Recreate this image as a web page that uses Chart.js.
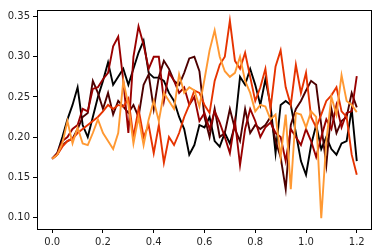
<!DOCTYPE html>
<html>
<head>
<meta charset="utf-8">
<script src="https://cdn.jsdelivr.net/npm/chart.js@4"></script>
<style>
    html, body { margin: 0; padding: 0; background: #ffffff; }
    #wrap { width: 382px; height: 252px; }
</style>
</head>
<body>
<div id="wrap"><canvas id="walkChart" width="382" height="252"></canvas></div>
<script>
// x positions shared by all series
const xValues = [0.00, 0.02, 0.04, 0.06, 0.08, 0.10, 0.12, 0.14, 0.16, 0.18,
    0.20, 0.22, 0.24, 0.26, 0.28, 0.30, 0.32, 0.34, 0.36, 0.38,
    0.40, 0.42, 0.44, 0.46, 0.48, 0.50, 0.52, 0.54, 0.56, 0.58,
    0.60, 0.62, 0.64, 0.66, 0.68, 0.70, 0.72, 0.74, 0.76, 0.78,
    0.80, 0.82, 0.84, 0.86, 0.88, 0.90, 0.92, 0.94, 0.96, 0.98,
    1.00, 1.02, 1.04, 1.06, 1.08, 1.10, 1.12, 1.14, 1.16, 1.18, 1.20];

const blackSeries = [0.173, 0.180, 0.200, 0.222, 0.240, 0.262, 0.215, 0.200, 0.225, 0.250,
    0.270, 0.293, 0.265, 0.275, 0.285, 0.265, 0.285, 0.305, 0.320, 0.280,
    0.274, 0.274, 0.270, 0.255, 0.245, 0.225, 0.210, 0.178, 0.190, 0.215,
    0.212, 0.225, 0.195, 0.188, 0.205, 0.192, 0.215, 0.275, 0.265, 0.285,
    0.265, 0.240, 0.272, 0.240, 0.180, 0.240, 0.245, 0.240, 0.205, 0.170,
    0.153, 0.190, 0.215, 0.185, 0.200, 0.185, 0.178, 0.192, 0.195, 0.235, 0.170];

const maroonSeries = [0.173, 0.178, 0.190, 0.195, 0.198, 0.210, 0.225, 0.230, 0.270, 0.255,
    0.235, 0.255, 0.228, 0.245, 0.238, 0.230, 0.240, 0.225, 0.265, 0.278,
    0.235, 0.275, 0.295, 0.285, 0.270, 0.265, 0.280, 0.298, 0.300, 0.282,
    0.225, 0.200, 0.235, 0.200, 0.205, 0.235, 0.210, 0.195, 0.235, 0.205,
    0.215, 0.210, 0.215, 0.225, 0.195, 0.175, 0.135, 0.215, 0.235, 0.245,
    0.258, 0.270, 0.265, 0.215, 0.165, 0.235, 0.205, 0.220, 0.225, 0.255, 0.237];

const darkRedSeries = [0.173, 0.180, 0.195, 0.200, 0.210, 0.215, 0.235, 0.232, 0.260, 0.262,
    0.272, 0.280, 0.313, 0.325, 0.270, 0.205, 0.300, 0.338, 0.315, 0.285,
    0.300, 0.300, 0.245, 0.280, 0.270, 0.255, 0.262, 0.240, 0.250, 0.220,
    0.230, 0.210, 0.232, 0.218, 0.200, 0.180, 0.220, 0.165, 0.210, 0.235,
    0.220, 0.200, 0.212, 0.218, 0.205, 0.200, 0.170, 0.210, 0.200, 0.190,
    0.210, 0.195, 0.175, 0.200, 0.222, 0.210, 0.240, 0.212, 0.230, 0.232, 0.276];

const redOrangeSeries = [0.173, 0.178, 0.188, 0.195, 0.198, 0.205, 0.210, 0.215, 0.220, 0.225,
    0.232, 0.240, 0.235, 0.240, 0.238, 0.248, 0.200, 0.235, 0.200, 0.215,
    0.180, 0.215, 0.168, 0.200, 0.190, 0.205, 0.225, 0.240, 0.258, 0.255,
    0.240, 0.230, 0.270, 0.290, 0.300, 0.345, 0.295, 0.285, 0.305, 0.275,
    0.245, 0.262, 0.285, 0.235, 0.288, 0.308, 0.262, 0.240, 0.290, 0.255,
    0.280, 0.225, 0.212, 0.228, 0.245, 0.252, 0.262, 0.232, 0.225, 0.178, 0.153];

const orangeSeries = [0.173, 0.178, 0.192, 0.220, 0.192, 0.212, 0.192, 0.190, 0.205, 0.222,
    0.205, 0.195, 0.185, 0.205, 0.270, 0.240, 0.192, 0.225, 0.190, 0.222,
    0.245, 0.220, 0.255, 0.245, 0.235, 0.278, 0.255, 0.262, 0.258, 0.238,
    0.272, 0.308, 0.333, 0.300, 0.282, 0.275, 0.280, 0.300, 0.270, 0.255,
    0.232, 0.240, 0.238, 0.222, 0.228, 0.175, 0.228, 0.135, 0.230, 0.228,
    0.212, 0.232, 0.225, 0.099, 0.195, 0.250, 0.228, 0.277, 0.245, 0.240, 0.231];

const xTicks = [0.0, 0.2, 0.4, 0.6, 0.8, 1.0, 1.2];
const yTicks = [0.10, 0.15, 0.20, 0.25, 0.30, 0.35];

const seriesList = [blackSeries, maroonSeries, darkRedSeries, redOrangeSeries, orangeSeries];
const seriesColors = ['#000000', '#4d0000', '#990000', '#e63300', '#ff9933'];

// matplotlib style box around the plot area
const frameBox = {
    id: 'frameBox',
    afterDraw(chart) {
        const { ctx, chartArea } = chart;
        ctx.save();
        ctx.strokeStyle = '#000000';
        ctx.lineWidth = 1;
        ctx.strokeRect(Math.round(chartArea.left) + 0.5, Math.round(chartArea.top) + 0.5,
            Math.round(chartArea.right - chartArea.left) - 1, Math.round(chartArea.bottom - chartArea.top));
        ctx.restore();
    }
};

const tickFont = { family: 'DejaVu Sans', size: 10 };

new Chart(document.getElementById('walkChart').getContext('2d'), {
    type: 'line',
    data: {
        datasets: seriesList.map((values, i) => ({
            data: values.map((v, j) => ({ x: xValues[j], y: v })),
            borderColor: seriesColors[i],
            borderWidth: 1.9,
            pointRadius: 0,
            tension: 0,
            fill: false,
            order: seriesList.length - i // later series sit on top
        }))
    },
    options: {
        responsive: false,
        animation: false,
        layout: { padding: { top: 10, right: 10, left: 0, bottom: 0 } },
        plugins: {
            legend: { display: false },
            tooltip: { enabled: false }
        },
        scales: {
            x: {
                type: 'linear',
                min: -0.06,
                max: 1.26,
                afterBuildTicks: scale => { scale.ticks = xTicks.map(v => ({ value: v })); },
                afterFit: scale => { scale.height = 23; },
                grid: { drawOnChartArea: false, drawTicks: true, tickLength: 4, color: '#000000' },
                border: { display: false },
                ticks: {
                    font: tickFont,
                    color: '#262626',
                    padding: 3,
                    maxRotation: 0,
                    callback: value => value.toFixed(1)
                }
            },
            y: {
                min: 0.0854,
                max: 0.3583,
                afterBuildTicks: scale => { scale.ticks = yTicks.map(v => ({ value: v })); },
                afterFit: scale => { scale.width = 37; },
                grid: { drawOnChartArea: false, drawTicks: true, tickLength: 4, color: '#000000' },
                border: { display: false },
                ticks: {
                    font: tickFont,
                    color: '#262626',
                    padding: 3,
                    callback: value => value.toFixed(2)
                }
            }
        }
    },
    plugins: [frameBox]
});
</script>
</body>
</html>
